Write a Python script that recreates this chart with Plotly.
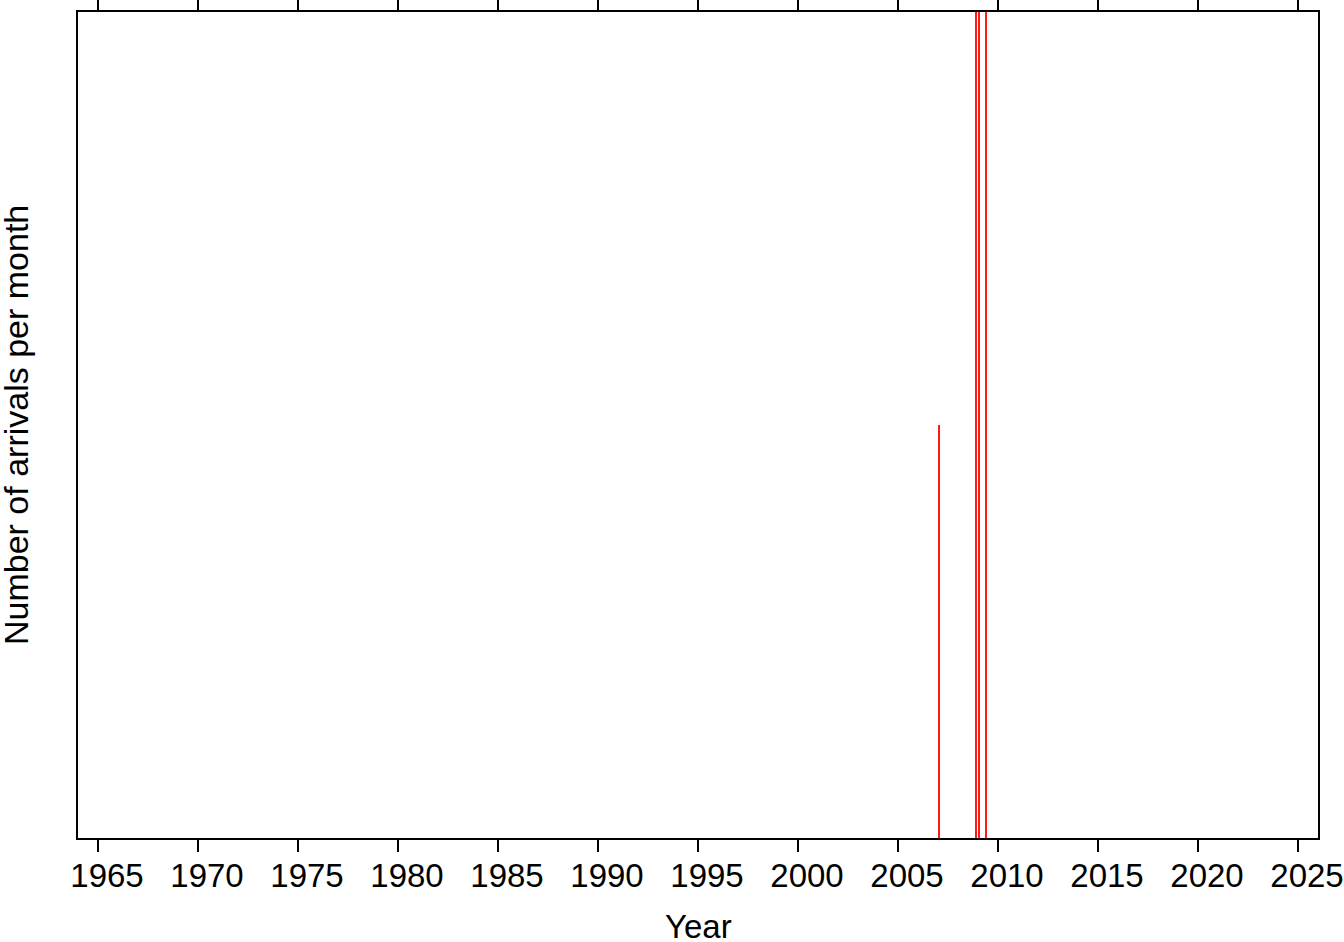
import plotly.graph_objects as go

# Monthly arrival counts (decimal year of month, count)
months = [2007.03, 2008.92, 2009.05, 2009.38]
arrivals = [1, 2, 2, 2]
tick_years = [1965, 1970, 1975, 1980, 1985, 1990, 1995, 2000, 2005, 2010, 2015, 2020, 2025]

font_family = "Liberation Sans, Arial, Helvetica, sans-serif"
FS = 33

fig = go.Figure()
fig.add_trace(go.Bar(
    x=months, y=arrivals, width=0.1,
    marker=dict(color="#ff1a1a", line=dict(width=0)),
    showlegend=False,
))

fig.update_layout(
    width=1344, height=942,
    margin=dict(l=78, r=26, t=12, b=104),
    paper_bgcolor="white", plot_bgcolor="white",
    font=dict(family=font_family, size=FS, color="black"),
    bargap=0,
    annotations=[
        dict(text="Year", xref="paper", yref="paper", x=0.5, y=0,
             xanchor="center", yanchor="middle", yshift=-88,
             showarrow=False, font=dict(size=FS)),
        dict(text="Number of arrivals per month", xref="paper", yref="paper",
             x=0, y=0.5, xanchor="center", yanchor="middle", xshift=-62,
             textangle=-90, showarrow=False, font=dict(size=34)),
    ],
)
fig.update_xaxes(
    range=[1964, 2026], automargin=False,
    tickvals=tick_years, ticktext=[str(t) for t in tick_years],
    ticks="outside", ticklen=12, tickwidth=1.5, tickcolor="black",
    showline=True, linewidth=2, linecolor="black", mirror="ticks",
    showgrid=False, zeroline=False,
    tickfont=dict(size=FS),
    ticklabelshift=9, ticklabelstandoff=-5, ticklabeloverflow="allow",
)
fig.update_yaxes(
    range=[0, 2], automargin=False,
    showticklabels=False, ticks="",
    showline=True, linewidth=2, linecolor="black", mirror=True,
    showgrid=False, zeroline=False,
)

fig.write_html("out.html", config={"displayModeBar": False},
               post_script="document.body.style.margin='0';document.body.style.overflow='hidden';")
